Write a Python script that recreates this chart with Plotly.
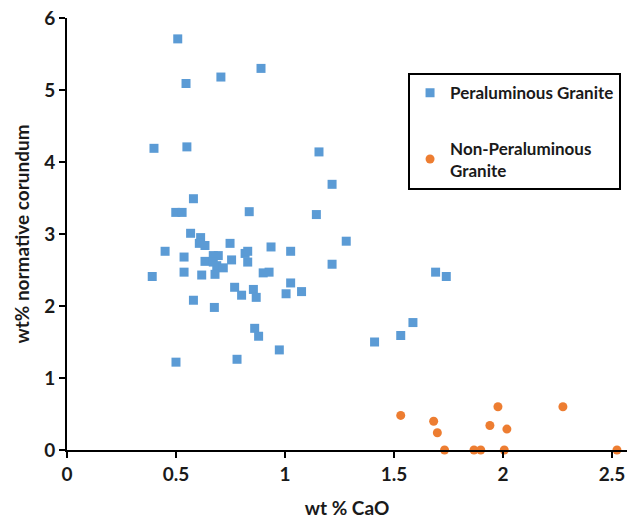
import plotly.graph_objects as go

# Peraluminous Granite (wt % CaO, wt% normative corundum)
per_cao = [0.508, 0.890, 0.706, 0.546, 0.399, 0.550, 0.580, 0.499, 0.528, 0.836,
           0.567, 0.613, 0.607, 0.633, 0.748, 0.450, 0.817, 0.829, 0.936, 1.026,
           0.537, 0.633, 0.671, 0.694, 0.671, 0.687, 0.679, 0.717, 0.755, 0.829,
           0.900, 0.927, 0.391, 0.537, 0.618, 0.769, 0.801, 0.855, 0.868, 1.026,
           1.005, 1.076, 0.580, 0.676, 0.861, 0.879, 0.974, 0.500, 0.780, 1.156,
           1.216, 1.144, 1.281, 1.216, 1.587, 1.531, 1.411, 1.691, 1.740]
per_cor = [5.71, 5.30, 5.18, 5.09, 4.19, 4.21, 3.49, 3.30, 3.30, 3.31,
           3.01, 2.95, 2.87, 2.84, 2.87, 2.76, 2.73, 2.76, 2.82, 2.76,
           2.68, 2.62, 2.70, 2.70, 2.61, 2.56, 2.44, 2.53, 2.64, 2.61,
           2.46, 2.47, 2.41, 2.47, 2.43, 2.26, 2.15, 2.23, 2.12, 2.32,
           2.17, 2.20, 2.08, 1.98, 1.69, 1.58, 1.39, 1.22, 1.26, 4.14,
           3.69, 3.27, 2.90, 2.58, 1.77, 1.59, 1.50, 2.47, 2.41]

# Non-Peraluminous Granite
non_cao = [1.531, 1.682, 1.699, 1.732, 1.867, 1.898, 1.977, 1.940, 2.018, 2.006, 2.275, 2.523]
non_cor = [0.48, 0.40, 0.24, 0.0, 0.0, 0.0, 0.60, 0.34, 0.29, 0.0, 0.60, 0.0]

x_ticks = [0, 0.5, 1, 1.5, 2, 2.5]
x_ticklabels = ["0", "0.5", "1", "1.5", "2", "2.5"]
y_ticks = [0, 1, 2, 3, 4, 5, 6]

FONT = "Lato"
TXT = "#1a1a1a"

fig = go.Figure()
fig.add_trace(go.Scatter(
    x=per_cao, y=per_cor, mode="markers", name="Peraluminous Granite",
    legendgroup="a",
    marker=dict(symbol="square", size=9, color="#5B9BD5"),
    cliponaxis=False,
))
fig.add_trace(go.Scatter(
    x=non_cao, y=non_cor, mode="markers", name="Non-Peraluminous<br>Granite",
    legendgroup="b",
    marker=dict(symbol="circle", size=9, color="#ED7D31"),
    cliponaxis=False,
))

fig.update_layout(
    width=627, height=519,
    margin=dict(l=67, r=0, t=18, b=69),
    paper_bgcolor="white", plot_bgcolor="white",
    font=dict(family=FONT, size=19, color=TXT),
    showlegend=True,
    legend=dict(
        x=0.609, y=0.872, xanchor="left", yanchor="top",
        bordercolor="black", borderwidth=2, bgcolor="white",
        font=dict(family=FONT, size=17, color=TXT, weight="bold"),
        tracegroupgap=30, traceorder="grouped",
        itemwidth=30,
    ),
    xaxis=dict(
        range=[0, 2.569], tickvals=x_ticks, ticktext=x_ticklabels,
        showgrid=False, zeroline=False, automargin=False,
        showline=True, linecolor="black", linewidth=2,
        ticks="outside", ticklen=6, tickwidth=2, tickcolor="black",
        ticklabeloverflow="allow",
        tickfont=dict(family=FONT, size=19, weight="bold", color=TXT),
        title=dict(text="wt % CaO", font=dict(family=FONT, size=19, weight="bold", color=TXT), standoff=24),
    ),
    yaxis=dict(
        range=[0, 6], tickvals=y_ticks,
        showgrid=False, zeroline=False, automargin=False,
        showline=True, linecolor="black", linewidth=2,
        ticks="outside", ticklen=6, tickwidth=2, tickcolor="black",
        ticklabeloverflow="allow",
        tickfont=dict(family=FONT, size=19, weight="bold", color=TXT),
        title=dict(text="wt% normative corundum", font=dict(family=FONT, size=19, weight="bold", color=TXT), standoff=10),
    ),
)

# remove the browser's default 8px body margin so the 627x519 figure fills the window
fig.write_html(
    "out.html",
    config={"displayModeBar": False},
    post_script="document.body.style.margin='0';document.body.style.overflow='hidden';",
)
